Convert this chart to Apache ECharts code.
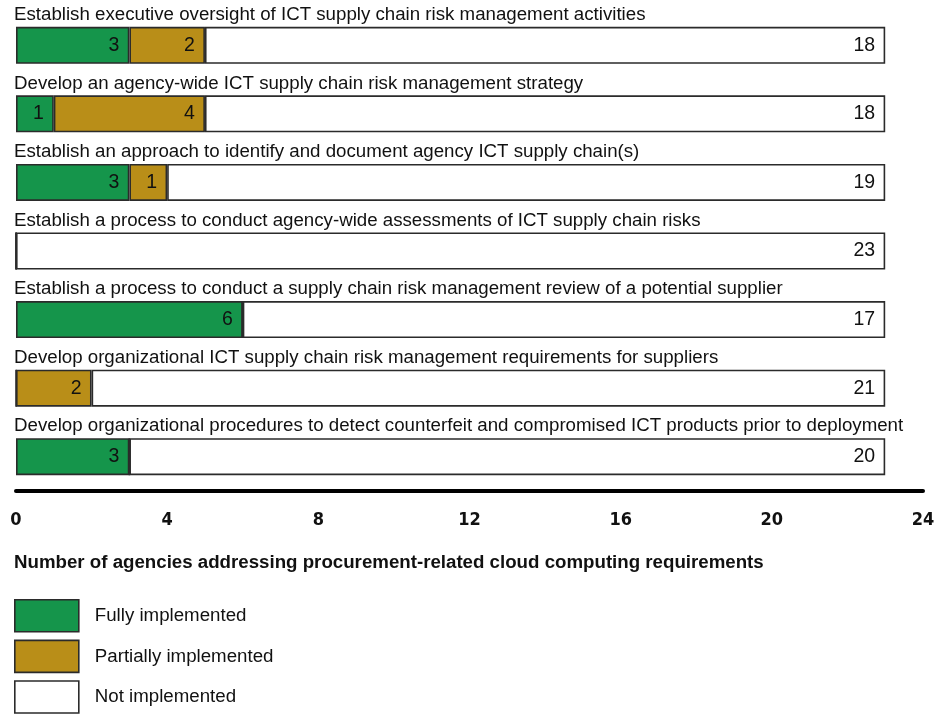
<!DOCTYPE html>
<html>
<head>
<meta charset="utf-8">
<script src="https://cdn.jsdelivr.net/npm/echarts@6/dist/echarts.min.js"></script>
<style>
html, body { margin: 0; padding: 0; background: #fff; }
#myEcharts { width: 942px; height: 715px; }
</style>
</head>
<body>
<div id="myEcharts"></div>
<script>
var categories = [
    'Establish executive oversight of ICT supply chain risk management activities',
    'Develop an agency-wide ICT supply chain risk management strategy',
    'Establish an approach to identify and document agency ICT supply chain(s)',
    'Establish a process to conduct agency-wide assessments of ICT supply chain risks',
    'Establish a process to conduct a supply chain risk management review of a potential supplier',
    'Develop organizational ICT supply chain risk management requirements for suppliers',
    'Develop organizational procedures to detect counterfeit and compromised ICT products prior to deployment'
]
var fully = [3, 1, 3, 0, 6, 0, 3]
var partially = [2, 4, 1, 0, 0, 2, 0]
var notImpl = [18, 18, 19, 23, 17, 21, 20]
var xTicks = [0, 4, 8, 12, 16, 20, 24]

var myChart = echarts.init(document.getElementById('myEcharts'))

function barSeries(name, data, color) {
    return {
        name: name,
        type: 'bar',
        stack: 'total',
        barWidth: 37,
        data: data,
        itemStyle: { color: color, borderColor: '#2b2b2b', borderWidth: 1.6 },
        label: {
            show: true,
            position: 'insideRight',
            distance: 10,
            color: '#111',
            fontSize: 19.5,
            fontFamily: 'Liberation Sans, Arial, sans-serif',
            formatter: function (p) { return p.value ? p.value : '' }
        },
        emphasis: { disabled: true }
    }
}

myChart.setOption({
    animation: false,
    textStyle: { fontFamily: 'Liberation Sans, Arial, sans-serif' },
    grid: { left: 16, right: 19, top: 11, bottom: 224 },
    title: {
        text: 'Number of agencies addressing procurement-related cloud computing requirements',
        left: 9,
        top: 548,
        textStyle: { fontSize: 18.7, fontWeight: 'bold', color: '#111' }
    },
    legend: {
        orient: 'vertical',
        left: 9,
        top: 594,
        height: 130,
        itemWidth: 64,
        itemHeight: 32,
        itemGap: 7,
        icon: 'rect',
        textStyle: { fontSize: 18.7, color: '#111', padding: [0, 0, 0, 11] },
        itemStyle: { borderColor: '#2b2b2b', borderWidth: 1.6 },
        data: ['Fully implemented', 'Partially implemented', 'Not implemented']
    },
    xAxis: {
        type: 'value',
        min: 0,
        max: 24,
        interval: 4,
        axisLine: { show: true, lineStyle: { color: '#000', width: 4 } },
        axisTick: { show: false },
        splitLine: { show: false },
        axisLabel: {
            margin: 20,
            color: '#111',
            fontSize: 18,
            fontWeight: 'bold',
            fontFamily: 'Liberation Sans Narrow, DejaVu Sans Condensed, sans-serif',
            formatter: function (v) { return xTicks.indexOf(v) >= 0 ? String(v) : '' }
        }
    },
    yAxis: {
        type: 'category',
        inverse: true,
        data: categories,
        axisLine: { show: false },
        axisTick: { show: false },
        axisLabel: {
            inside: true,
            margin: -2,
            align: 'left',
            verticalAlign: 'bottom',
            padding: [0, 0, 21, 0],
            fontSize: 18.7,
            color: '#111'
        }
    },
    series: [
        barSeries('Fully implemented', fully, '#15954b'),
        barSeries('Partially implemented', partially, '#b98e18'),
        barSeries('Not implemented', notImpl, '#ffffff')
    ]
})
</script>
</body>
</html>
